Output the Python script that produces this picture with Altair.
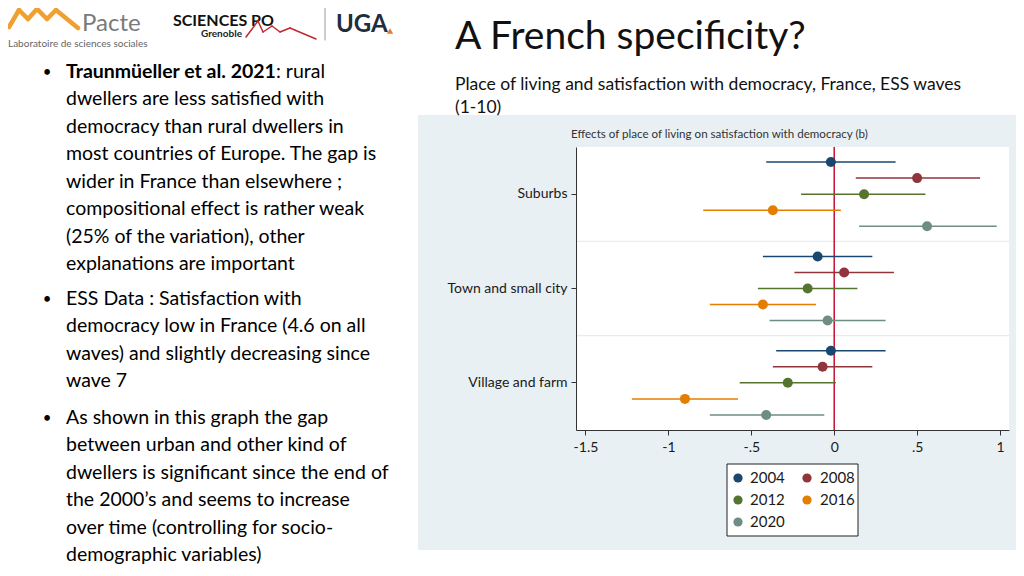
import altair as alt
import pandas as pd

# ---------------- data ----------------
places = ["Suburbs", "Town and small city", "Village and farm"]
waves = ["2004", "2008", "2012", "2016", "2020"]
wave_colors = ["#1a476f", "#90353b", "#55752f", "#e37e00", "#6e8e84"]

est_suburbs = [-0.02, 0.50, 0.18, -0.37, 0.56]
lo_suburbs = [-0.41, 0.13, -0.20, -0.79, 0.15]
hi_suburbs = [0.37, 0.88, 0.55, 0.04, 0.98]

est_town = [-0.10, 0.06, -0.16, -0.43, -0.04]
lo_town = [-0.43, -0.24, -0.46, -0.75, -0.39]
hi_town = [0.23, 0.36, 0.14, -0.11, 0.31]

est_village = [-0.02, -0.07, -0.28, -0.90, -0.41]
lo_village = [-0.35, -0.37, -0.57, -1.22, -0.75]
hi_village = [0.31, 0.23, 0.01, -0.58, -0.06]

x_ticks = [-1.5, -1, -0.5, 0, 0.5, 1]
x_tick_labels = ["-1.5", "-1", "-.5", "0", ".5", "1"]

separator_places = ["Town and small city", "Village and farm"]

slide_title = "A French specificity?"
slide_subtitle = ["Place of living and satisfaction with democracy, France, ESS waves", "(1-10)"]
chart_title = "Effects of place of living on satisfaction with democracy (b)"

bullet1_bold = "Traunmüeller et al. 2021"
bullet1_first_rest = ": rural"
bullet1_lines = [
    "dwellers are less satisfied with",
    "democracy than rural dwellers in",
    "most countries of Europe. The gap is",
    "wider in France than elsewhere ;",
    "compositional effect is rather weak",
    "(25% of the variation), other",
    "explanations are important",
]
bullet2_lines = [
    "ESS Data : Satisfaction with",
    "democracy low in France (4.6 on all",
    "waves) and slightly decreasing since",
    "wave 7",
]
bullet3_lines = [
    "As shown in this graph the gap",
    "between urban and other kind of",
    "dwellers is significant since the end of",
    "the 2000\u2019s and seems to increase",
    "over time (controlling for socio-",
    "demographic variables)",
]

# ---------------- table ----------------
rows = []
for place, est, lo, hi in [
    (places[0], est_suburbs, lo_suburbs, hi_suburbs),
    (places[1], est_town, lo_town, hi_town),
    (places[2], est_village, lo_village, hi_village),
]:
    for w, e, l, h in zip(waves, est, lo, hi):
        rows.append({"place": place, "wave": w, "est": e, "lo": l, "hi": h})
df = pd.DataFrame(rows)
sep_df = pd.DataFrame({"place": separator_places})
one = pd.DataFrame({"k": [0]})

# ---------------- layout ----------------
OX, OY = 576, 147          # page position of plot origin
W, H = 433, 283
FONT = "Lato"

label_expr = " : ".join(
    f"datum.value == {v} ? '{t}'" for v, t in zip(x_ticks, x_tick_labels)
) + " : datum.label"

x_scale = alt.Scale(domain=[-1.557, 1.054], nice=False, zero=False)
y_scale = alt.Scale(domain=places, paddingInner=0, paddingOuter=0)
color_scale = alt.Scale(domain=waves, range=wave_colors)
y_axis = alt.Axis(title=None, labelFontSize=14, labelColor="#1a1a1a", tickSize=5,
                  tickColor="#333333", domainColor="#333333", labelPadding=4,
                  grid=False, labelFont=FONT, zindex=1)
x_axis = alt.Axis(title=None, values=x_ticks, labelExpr=label_expr, labelFontSize=14,
                  labelColor="#1a1a1a", tickSize=5, tickColor="#333333",
                  domainColor="#333333", labelPadding=5, grid=False, labelFont=FONT,
                  zindex=1)


def txt(s, x, y, size, color="black", weight="normal", align="left"):
    return alt.Chart(one).mark_text(
        text=s, align=align, baseline="middle", fontSize=size, font=FONT,
        fontWeight=weight, color=color
    ).encode(x=alt.value(x - OX), y=alt.value(y - OY))


def seg(x1, y1, x2, y2, color, width):
    return alt.Chart(one).mark_rule(color=color, strokeWidth=width, strokeCap="round").encode(
        x=alt.value(x1 - OX), y=alt.value(y1 - OY), x2=alt.value(x2 - OX), y2=alt.value(y2 - OY)
    )


panel = alt.Chart(one).mark_rect(color="#e9f0f3").encode(
    x=alt.value(418 - OX), x2=alt.value(1016 - OX), y=alt.value(115 - OY), y2=alt.value(550 - OY)
)
plot_bg = alt.Chart(one).mark_rect(color="white").encode(
    x=alt.value(0), x2=alt.value(W), y=alt.value(0), y2=alt.value(H)
)

separators = alt.Chart(sep_df).mark_rule(color="#e6ecef", strokeWidth=1.2).encode(
    y=alt.Y("place:N", bandPosition=0, sort=places, scale=y_scale, axis=y_axis),
    x=alt.value(0), x2=alt.value(W)
)

zero_line = alt.Chart(one).mark_rule(color="#c8102e", strokeWidth=1.5).encode(
    x=alt.datum(0, scale=x_scale, axis=x_axis), y=alt.value(0), y2=alt.value(H)
)

base = alt.Chart(df)
y_enc = alt.Y("place:N", sort=places, scale=y_scale, axis=y_axis)
yoff_enc = alt.YOffset("wave:N", sort=waves,
                       scale=alt.Scale(domain=waves, paddingInner=0, paddingOuter=0.44))

ci = base.mark_rule(strokeWidth=1.5).encode(
    x=alt.X("lo:Q", scale=x_scale, axis=x_axis),
    x2="hi:Q",
    y=y_enc,
    yOffset=yoff_enc,
    stroke=alt.Stroke("wave:N", scale=color_scale, legend=None),
)

pts = base.mark_circle(size=100, opacity=1).encode(
    x=alt.X("est:Q", scale=x_scale, axis=x_axis),
    y=y_enc,
    yOffset=yoff_enc,
    color=alt.Color("wave:N", scale=color_scale, legend=None),
)

layers = [panel, plot_bg, separators, zero_line, ci, pts]

# legend box (two columns, as in the reference)
layers.append(alt.Chart(one).mark_rect(fill="white", stroke="#222222", strokeWidth=1).encode(
    x=alt.value(727 - OX), x2=alt.value(858 - OX), y=alt.value(464 - OY), y2=alt.value(536 - OY)))
leg_sym_x = [738, 807]
leg_lab_x = [750, 820]
leg_row_y = [478, 500, 522]
for i, w in enumerate(waves):
    c, r = i % 2, i // 2
    layers.append(alt.Chart(pd.DataFrame({"wave": [w]})).mark_circle(size=85, opacity=1).encode(
        x=alt.value(leg_sym_x[c] - OX), y=alt.value(leg_row_y[r] - OY),
        color=alt.Color("wave:N", scale=color_scale, legend=None)))
    layers.append(txt(w, leg_lab_x[c], leg_row_y[r], 15, color="#1a1a1a"))

# chart title
layers.append(txt(chart_title, 571, 135, 11.6, color="#333333"))

# slide title and subtitle
layers.append(txt(slide_title, 455, 37, 39, color="#111111"))
layers.append(txt(slide_subtitle[0], 455, 85, 17.5, color="#111111"))
layers.append(txt(slide_subtitle[1], 455, 108, 17.5, color="#111111"))

# bullets
FS = 19.5
LH = 27.43
TX, BX = 66, 47
layers.append(txt("\u2022", BX, 72, 15, align="center"))
layers.append(txt(bullet1_bold, TX, 72, FS, weight="bold"))
layers.append(txt(bullet1_first_rest, 276, 72, FS))
for i, s in enumerate(bullet1_lines):
    layers.append(txt(s, TX, 72 + (i + 1) * LH, FS))
layers.append(txt("\u2022", BX, 299, 15, align="center"))
for i, s in enumerate(bullet2_lines):
    layers.append(txt(s, TX, 299 + i * LH, FS))
layers.append(txt("\u2022", BX, 418, 15, align="center"))
for i, s in enumerate(bullet3_lines):
    layers.append(txt(s, TX, 418 + i * LH, FS))

# logos (decoration)
orange = "#f0a030"
for (a, b, c, d) in [(9, 27, 19, 10), (19, 10, 28, 19), (28, 19, 37, 9), (37, 9, 47, 19),
                     (47, 19, 56, 10), (56, 10, 78, 28)]:
    layers.append(seg(a, b, c, d, orange, 4.5))
layers.append(txt("Pacte", 82, 24, 24, color="#7a7a7a"))
layers.append(txt("Laboratoire de sciences sociales", 8, 44, 10, color="#666666"))
layers.append(txt("SCIENCES PO", 173, 21, 16, weight="bold", color="#111111"))
layers.append(txt("Grenoble", 201, 34, 10, weight="bold", color="#222222"))
for (a, b, c, d) in [(246, 37, 258, 21), (258, 21, 263, 32), (263, 32, 272, 26),
                     (272, 26, 280, 32), (280, 32, 290, 28), (290, 28, 316, 39)]:
    layers.append(seg(a, b, c, d, "#c0282d", 1.5))
layers.append(seg(325, 8, 325, 40, "#9a9a9a", 1))
layers.append(txt("UGA", 336, 25, 24, weight="bold", color="#1f2d3d"))
layers.append(alt.Chart(one).mark_point(shape="triangle-up", filled=True, size=40,
                                        color="#e8792b", opacity=1).encode(
    x=alt.value(390 - OX), y=alt.value(31 - OY)))

chart = alt.layer(*layers).properties(
    width=W, height=H,
    padding={"left": OX - 8, "top": OY - 8, "right": 1008 - (OX - 8) - W, "bottom": 558 - (OY - 8) - H},
    autosize=alt.AutoSizeParams(type="none"),
    background="white",
).configure_view(stroke=None)

chart.save("out.html", embed_options={"renderer": "svg", "actions": False})
